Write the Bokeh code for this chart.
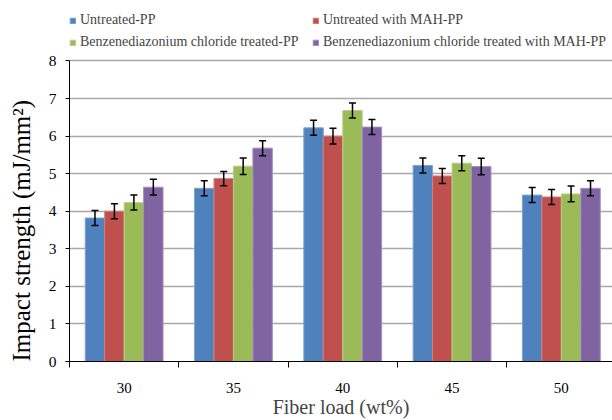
import numpy as np
from bokeh.plotting import figure
from bokeh.models import (ColumnDataSource, Range1d, FixedTicker, Legend, LegendItem,
                          Whisker, TeeHead, Title)
from bokeh.embed import file_html
from bokeh.resources import INLINE

categories = ["30", "35", "40", "45", "50"]
series_names = ["Untreated-PP", "Untreated with MAH-PP",
                "Benzenediazonium chloride treated-PP",
                "Benzenediazonium chloride treated with MAH-PP"]
untreated = [3.82, 4.61, 6.22, 5.22, 4.43]
untreated_mah = [4.00, 4.87, 6.00, 4.94, 4.38]
bdc_treated = [4.23, 5.20, 6.68, 5.28, 4.46]
bdc_treated_mah = [4.64, 5.68, 6.24, 5.19, 4.61]
err_untreated = [0.20, 0.20, 0.20, 0.20, 0.20]
err_untreated_mah = [0.20, 0.19, 0.21, 0.20, 0.20]
err_bdc_treated = [0.20, 0.22, 0.20, 0.20, 0.21]
err_bdc_treated_mah = [0.21, 0.20, 0.20, 0.22, 0.20]
y_ticks = [0, 1, 2, 3, 4, 5, 6, 7, 8]

colors = ["#4F81BD", "#C0504D", "#9BBB59", "#8064A2"]
edges = ["#7EA3D0", "#D37F7D", "#B9D08A", "#A590C0"]
values = [untreated, untreated_mah, bdc_treated, bdc_treated_mah]
errors = [err_untreated, err_untreated_mah, err_bdc_treated, err_bdc_treated_mah]

FONT = "Liberation Serif"
bar_w = 0.178
offsets = [-1.5 * bar_w, -0.5 * bar_w, 0.5 * bar_w, 1.5 * bar_w]

# frame: x from 68 to 612 px, y from 0 (top) to 364 px; value 8 sits at 61 px
px_per_unit = (364 - 61) / 8.0
p = figure(width=612, height=420, output_backend="svg", toolbar_location=None,
           x_range=Range1d(0, 544 / 109.5), y_range=Range1d(0, 364 / px_per_unit),
           min_border_left=68, min_border_right=0, min_border_top=0,
           min_border_bottom=0)
p.outline_line_color = None
p.background_fill_color = "white"
p.border_fill_color = "white"

idx = np.arange(len(categories)) + 0.5
items = []
for k in range(4):
    vals = np.array(values[k])
    errs = np.array(errors[k])
    src = ColumnDataSource(dict(x=idx + offsets[k], top=vals,
                                upper=vals + errs, lower=vals - errs))
    r = p.vbar(x="x", top="top", width=bar_w, bottom=0, source=src,
               fill_color=colors[k], line_color=edges[k], line_width=1)
    w = Whisker(base="x", upper="upper", lower="lower", source=src,
                line_color="black", line_width=1.5, level="overlay",
                upper_head=TeeHead(size=7, line_color="black", line_width=1.5),
                lower_head=TeeHead(size=7, line_color="black", line_width=1.5))
    p.add_layout(w)
    items.append(LegendItem(label=series_names[k], renderers=[r]))

# x axis
p.xaxis.ticker = FixedTicker(ticks=list(idx), minor_ticks=list(range(len(categories) + 1)))
p.xaxis.major_label_overrides = {float(v): c for v, c in zip(idx, categories)}
p.xaxis.major_tick_out = 0
p.xaxis.major_tick_in = 0
p.xaxis.minor_tick_out = 6
p.xaxis.minor_tick_in = 0
p.xaxis.minor_tick_line_color = "black"
p.xaxis.axis_line_color = "black"
p.xaxis.major_label_standoff = 15
p.xaxis.major_label_text_font = FONT
p.xaxis.major_label_text_font_size = "15px"
p.xaxis.major_label_text_color = "black"
p.xaxis.axis_label = "Fiber load (wt%)"
p.xaxis.axis_label_text_font = FONT
p.xaxis.axis_label_text_font_style = "normal"
p.xaxis.axis_label_text_font_size = "20px"
p.xaxis.axis_label_standoff = 0

# y axis
p.yaxis.ticker = FixedTicker(ticks=y_ticks)
p.yaxis.bounds = (y_ticks[0], y_ticks[-1])
p.yaxis.minor_tick_line_color = None
p.yaxis.major_tick_out = 4
p.yaxis.major_tick_in = 0
p.yaxis.major_tick_line_color = "black"
p.yaxis.axis_line_color = "black"
p.yaxis.major_label_standoff = 9
p.yaxis.major_label_text_font = FONT
p.yaxis.major_label_text_font_size = "15.5px"
p.yaxis.major_label_text_color = "black"
# tiny invisible label only to leave a gap between tick labels and the title
p.yaxis.axis_label = "\u00a0"
p.yaxis.axis_label_text_font_size = "1px"
p.yaxis.axis_label_standoff = 2

p.xgrid.grid_line_color = None
p.ygrid.ticker = FixedTicker(ticks=y_ticks[1:])
p.ygrid.grid_line_color = "#A8A8A8"
p.ygrid.grid_line_width = 1.5

ytitle = Title(text="Impact strength (mJ/mm²)", align="left", offset=0,
               text_font=FONT, text_font_size="25px", text_font_style="normal",
               text_color="black")
p.add_layout(ytitle, "left")

legend = Legend(items=items, ncols=2, orientation="horizontal", location=(0, 311),
                padding=0, margin=0, spacing=6,
                glyph_width=7, glyph_height=7, label_standoff=4,
                label_width=226, label_height=16,
                label_text_font=FONT, label_text_font_size="14px",
                border_line_alpha=0, background_fill_alpha=0)
p.add_layout(legend, "center")

open("out.html", "w").write(file_html(p, INLINE))
